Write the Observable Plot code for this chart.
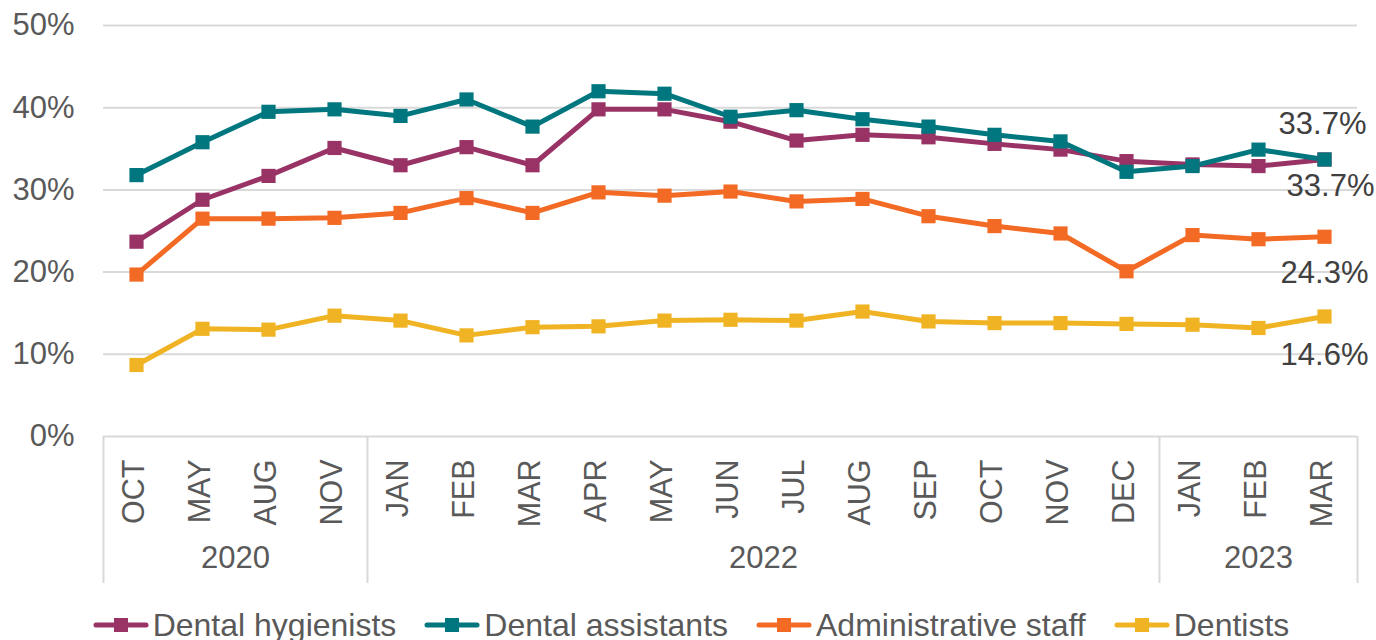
<!DOCTYPE html>
<html>
<head>
<meta charset="utf-8">
<script src="https://cdn.jsdelivr.net/npm/d3@7"></script>
<script src="https://cdn.jsdelivr.net/npm/@observablehq/plot@0.6"></script>
<style>
  html, body { margin: 0; padding: 0; background: #fff; overflow: hidden; }
  #chart { width: 1376px; }
  .legend { display: flex; justify-content: center; align-items: center; gap: 28px; height: 40px;
    font-family: "Liberation Sans", Arial, sans-serif; font-size: 32px; color: #595959; padding-left: 6px; }
  .legend .item { display: flex; align-items: center; gap: 4px; white-space: nowrap; }
  .legend svg { display: block; }
</style>
</head>
<body>
<div id="chart"></div>
<script>
const months = ["OCT","MAY","AUG","NOV","JAN","FEB","MAR","APR","MAY","JUN","JUL","AUG","SEP","OCT","NOV","DEC","JAN","FEB","MAR"];
const years = ["2020", "2022", "2023"];
const yearCounts = [4, 12, 3];
const seriesNames = ["Dental hygienists", "Dental assistants", "Administrative staff", "Dentists"];
const seriesColors = ["#993366", "#00777F", "#F36A24", "#F0B323"];
const yTicks = [0, 10, 20, 30, 40, 50];

const hygienists = [23.7, 28.8, 31.7, 35.1, 33.0, 35.2, 33.0, 39.8, 39.8, 38.3, 36.0, 36.7, 36.4, 35.6, 34.9, 33.5, 33.1, 32.9, 33.7];
const assistants = [31.8, 35.8, 39.5, 39.8, 39.0, 41.0, 37.7, 42.0, 41.7, 38.9, 39.7, 38.6, 37.7, 36.7, 35.9, 32.2, 32.9, 34.9, 33.7];
const admin      = [19.7, 26.5, 26.5, 26.6, 27.2, 29.0, 27.2, 29.7, 29.3, 29.8, 28.6, 28.9, 26.8, 25.6, 24.7, 20.1, 24.5, 24.0, 24.3];
const dentists   = [8.7, 13.1, 13.0, 14.7, 14.1, 12.3, 13.3, 13.4, 14.1, 14.2, 14.1, 15.2, 14.0, 13.8, 13.8, 13.7, 13.6, 13.2, 14.6];

const seriesValues = [hygienists, assistants, admin, dentists];
const rows = [];
seriesNames.forEach((s, k) => seriesValues[k].forEach((v, i) => rows.push({series: s, i, value: v})));
const idx = months.map((_, i) => i);

// group boundaries and centers (in category index units)
const boundaries = [-0.5];
const yearRows = [];
let acc = 0;
years.forEach((y, k) => {
  yearRows.push({year: y, center: acc + (yearCounts[k] - 1) / 2});
  acc += yearCounts[k];
  boundaries.push(acc - 0.5);
});

const last = months.length - 1;
const labelOffsets = {"Dental assistants": [-2, -35], "Dental hygienists": [6, 27], "Administrative staff": [0, 36], "Dentists": [0, 39]};
const labelMarks = seriesNames.map((s, k) => Plot.text([{series: s, i: last, value: seriesValues[k][last]}], {
  x: "i", y: "value", text: d => d.value.toFixed(1) + "%",
  dx: labelOffsets[s][0], dy: labelOffsets[s][1], fontSize: 31, fill: "#404040"
}));

const chart = Plot.plot({
  width: 1376,
  height: 605,
  marginLeft: 103,
  marginRight: 19,
  marginTop: 25,
  marginBottom: 169,
  style: {fontFamily: "'Liberation Sans', Arial, sans-serif", color: "#595959", background: "#fff", overflow: "visible"},
  x: {type: "linear", domain: [-0.5, months.length - 0.5], axis: null},
  y: {domain: [0, 50], axis: null},
  color: {domain: seriesNames, range: seriesColors},
  marks: [
    Plot.ruleY(yTicks, {stroke: "#d9d9d9", strokeWidth: 2}),
    Plot.axisY(yTicks, {tickSize: 0, tickPadding: 29, tickFormat: d => d + "%", fontSize: 31, fill: "#595959", label: null}),
    Plot.axisX(boundaries, {anchor: "bottom", tickSize: 147, tickFormat: () => "", stroke: "#d9d9d9", strokeWidth: 2, strokeOpacity: 1, label: null}),
    Plot.text(idx, {x: d => d, frameAnchor: "bottom", dx: 7, dy: 23, rotate: -90, textAnchor: "end", text: i => months[i], fontSize: 30.5, fill: "#595959"}),
    Plot.text(yearRows, {x: "center", frameAnchor: "bottom", dy: 131, text: "year", fontSize: 31, fill: "#595959"}),
    Plot.line(rows, {x: "i", y: "value", z: "series", stroke: "series", strokeWidth: 5}),
    Plot.dot(rows, {x: "i", y: "value", fill: "series", symbol: "square", r: 8}),
    ...labelMarks
  ]
});
document.getElementById("chart").appendChild(chart);

// legend
const legend = document.createElement("div");
legend.className = "legend";
seriesNames.forEach((s, k) => {
  const item = document.createElement("div");
  item.className = "item";
  item.innerHTML = `<svg width="56" height="20"><line x1="3" y1="10" x2="53" y2="10" stroke="${seriesColors[k]}" stroke-width="5" stroke-linecap="round"/><rect x="21" y="3" width="14" height="14" fill="${seriesColors[k]}"/></svg><span>${s}</span>`;
  legend.appendChild(item);
});
document.getElementById("chart").appendChild(legend);
</script>
</body>
</html>
